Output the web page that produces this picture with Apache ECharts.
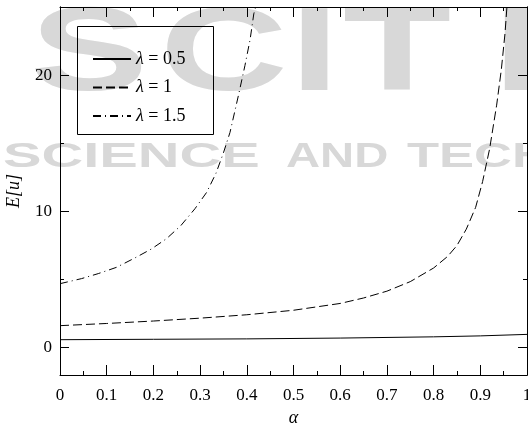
<!DOCTYPE html>
<html>
<head>
<meta charset="utf-8">
<script src="https://cdn.jsdelivr.net/npm/echarts@6/dist/echarts.min.js"></script>
<style>
  html, body { margin: 0; padding: 0; background: #fff; }
  #chart { width: 528px; height: 423px; }
</style>
</head>
<body>
<div id="chart"></div>
<script>
// data
const lambdas = ['λ = 0.5', 'λ = 1', 'λ = 1.5']

const alphaA = [0, 0.2, 0.4, 0.6, 0.8, 0.9, 1]
const valA = [0.59, 0.62, 0.65, 0.71, 0.8, 0.87, 0.98]

const alphaB = [0, 0.1, 0.2, 0.3, 0.4, 0.5, 0.6, 0.65, 0.7, 0.75, 0.8, 0.83, 0.85, 0.87, 0.89, 0.905, 0.92, 0.935, 0.945, 0.953, 0.957]
const valB = [1.62, 1.78, 1.96, 2.17, 2.42, 2.75, 3.25, 3.65, 4.15, 4.85, 5.85, 6.7, 7.5, 8.7, 10.3, 12.2, 14.6, 17.8, 20.4, 23.1, 25]

const alphaC = [0, 0.046, 0.082, 0.121, 0.161, 0.196, 0.228, 0.259, 0.289, 0.314, 0.334, 0.35, 0.364, 0.382, 0.396, 0.407, 0.415, 0.419]
const valC = [4.7, 5.07, 5.44, 5.9, 6.6, 7.25, 8.0, 8.97, 10.2, 11.4, 12.8, 14.3, 15.8, 18.5, 20.7, 22.6, 24.5, 25]

const xTicks = [0, 0.1, 0.2, 0.3, 0.4, 0.5, 0.6, 0.7, 0.8, 0.9, 1]
const yMajor = [0, 10, 20]
const yMinor = [5, 15]

const font = 'Liberation Serif'
const zip = (xs, ys) => xs.map((x, i) => [x, ys[i]])

// background watermark
const markBig = [['S', 30], ['C', 160], ['I', 290], ['T', 343], ['E', 493]]
const markSmall = [['SCIENCE', 3, 1.65], ['AND', 286, 1.35], ['TECH', 407, 1.5]]
const wmColor = '#d8d8d8'
const mark = (txt, x, y, size, sx) => ({
  type: 'text', z: -10, x: x, y: y, scaleX: sx, silent: true,
  style: { text: txt, x: 0, y: 0, verticalAlign: 'top', fill: wmColor,
    font: 'bold ' + size + 'px "Liberation Sans", sans-serif' }
})

const chart = echarts.init(document.getElementById('chart'))

const xBase = {
  type: 'value', min: 0, max: 1, interval: 0.1,
  axisLine: { show: true, onZero: false, lineStyle: { color: '#000', width: 1 } },
  axisTick: { show: true, inside: true, length: 10, lineStyle: { color: '#000' } },
  minorTick: { show: true, splitNumber: 2, length: 4, lineStyle: { color: '#000' } },
  splitLine: { show: false }
}

const yBase = {
  type: 'value', min: -2, max: 25,
  axisLine: { show: true, onZero: false, lineStyle: { color: '#000', width: 1 } },
  splitLine: { show: false }
}

const option = {
  animation: false,
  grid: { left: 60, right: 1, top: 7, bottom: 48, containLabel: false, outerBoundsMode: 'none' },
  graphic: [
    ...markBig.map(([c, x]) => mark(c, x, -2, 118, 1.5)),
    ...markSmall.map(([t, x, sx]) => mark(t, x, 140, 35, sx)),
    { type: 'rect', z: 5, silent: true, shape: { x: 77.5, y: 26.5, width: 136, height: 108 },
      style: { fill: 'none', stroke: '#000', lineWidth: 1 } }
  ],
  legend: {
    left: 77, top: 26, orient: 'vertical',
    padding: [24, 10, 10, 15], itemGap: 10.5,
    itemWidth: 38, itemHeight: 14, z: 6,
    data: lambdas,
    itemStyle: { opacity: 0 },
    textStyle: {
      fontFamily: font, fontSize: 18, color: '#000',
      rich: { i: { fontFamily: font, fontStyle: 'italic', fontSize: 18, color: '#000' } }
    },
    formatter: name => '{i|λ}' + name.slice(1)
  },
  xAxis: [
    Object.assign({}, xBase, {
      position: 'bottom',
      name: 'α', nameLocation: 'middle', nameGap: 27,
      nameTextStyle: { fontFamily: font, fontStyle: 'italic', fontSize: 18, color: '#000' },
      axisLabel: {
        margin: 12, fontFamily: font, fontSize: 17, color: '#000',
        formatter: v => xTicks.includes(+v.toFixed(1)) ? String(+v.toFixed(1)) : ''
      }
    }),
    Object.assign({}, xBase, { position: 'top', axisLabel: { show: false } })
  ],
  yAxis: [
    Object.assign({}, yBase, {
      position: 'left',
      name: 'E[u]', nameLocation: 'middle', nameGap: 37, nameRotate: 90,
      nameTextStyle: { fontFamily: font, fontStyle: 'italic', fontSize: 18, color: '#000' },
      axisTick: { show: true, inside: true, length: 9, customValues: yMajor, lineStyle: { color: '#000' } },
      axisLabel: { margin: 8, fontFamily: font, fontSize: 17, color: '#000', customValues: yMajor }
    }),
    Object.assign({}, yBase, {
      position: 'left',
      axisTick: { show: true, inside: true, length: 4, customValues: yMinor, lineStyle: { color: '#000' } },
      axisLabel: { show: false }
    }),
    Object.assign({}, yBase, {
      position: 'right',
      axisTick: { show: true, inside: true, length: 9, customValues: yMajor, lineStyle: { color: '#000' } },
      axisLabel: { show: false }
    }),
    Object.assign({}, yBase, {
      position: 'right',
      axisTick: { show: true, inside: true, length: 4, customValues: yMinor, lineStyle: { color: '#000' } },
      axisLabel: { show: false }
    })
  ],
  series: [
    { name: lambdas[0], data: zip(alphaA, valA), lineStyle: { type: 'solid' } },
    { name: lambdas[1], data: zip(alphaB, valB), lineStyle: { type: [9, 4] } },
    { name: lambdas[2], data: zip(alphaC, valC), lineStyle: { type: [8, 4, 1, 4] } }
  ].map(s => ({
    type: 'line', name: s.name, data: s.data,
    symbol: 'none', smooth: false, clip: true,
    lineStyle: Object.assign({ color: '#000', width: 1 }, s.lineStyle),
    itemStyle: { color: '#000' }
  }))
}

chart.setOption(option)
</script>
</body>
</html>
